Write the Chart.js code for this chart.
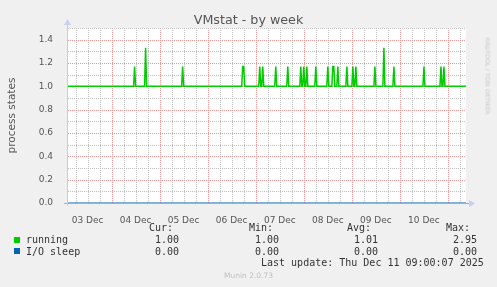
<!DOCTYPE html>
<html>
<head>
<meta charset="utf-8">
<script src="https://cdn.jsdelivr.net/npm/chart.js@4/dist/chart.umd.min.js"></script>
<style>
  html, body { margin: 0; padding: 0; background: #f0f0f0; }
  #wrap { position: relative; width: 497px; height: 287px; overflow: hidden; }
  #chart { position: absolute; left: 0; top: 0; }
  .txt { position: absolute; white-space: pre; font-family: "DejaVu Sans", sans-serif; color: #444; }
  .mono { position: absolute; white-space: pre; font-family: "DejaVu Sans Mono", monospace; font-size: 10px; line-height: 12px; color: #333; }
  .sq { position: absolute; width: 6px; height: 6px; }
</style>
</head>
<body>
<div id="wrap">
  <canvas id="chart" width="497" height="287"></canvas>

  <div class="txt" style="left:0; width:497px; top:12px; text-align:center; font-size:12.7px; color:#555;">VMstat - by week</div>
  <div class="txt" style="left:455px; top:67px; width:66px; text-align:center; font-size:6px; color:#c8c8c8; transform:rotate(90deg); transform-origin:center;">RRDTOOL / TOBI OETIKER</div>

  <div class="mono" style="left:149px; top:222px;">Cur:</div>
  <div class="mono" style="left:249px; top:222px;">Min:</div>
  <div class="mono" style="left:347px; top:222px;">Avg:</div>
  <div class="mono" style="left:446px; top:222px;">Max:</div>

  <div class="sq" style="left:14px; top:237px; background:#00cc00;"></div>
  <div class="mono" style="left:26px; top:234px;">running</div>
  <div class="mono" style="left:155px; top:234px;">1.00</div>
  <div class="mono" style="left:255px; top:234px;">1.00</div>
  <div class="mono" style="left:354px; top:234px;">1.01</div>
  <div class="mono" style="left:453px; top:234px;">2.95</div>

  <div class="sq" style="left:14px; top:248px; background:#0066b3;"></div>
  <div class="mono" style="left:26px; top:246px;">I/O sleep</div>
  <div class="mono" style="left:155px; top:246px;">0.00</div>
  <div class="mono" style="left:255px; top:246px;">0.00</div>
  <div class="mono" style="left:354px; top:246px;">0.00</div>
  <div class="mono" style="left:453px; top:246px;">0.00</div>

  <div class="mono" style="left:261px; top:257px;">Last update: Thu Dec 11 09:00:07 2025</div>
  <div class="txt" style="left:0; width:497px; top:271px; text-align:center; font-size:7.5px; color:#c0c0c0;">Munin 2.0.73</div>
</div>

<script>
// hours counted from 03 Dec 00:00
var xMin = 1.75;
var xMax = 201;
var dayLabels = ['03 Dec', '04 Dec', '05 Dec', '06 Dec', '07 Dec', '08 Dec', '09 Dec', '10 Dec'];
var xGridStep = 6;     // hours between grid lines
var yGridStep = 0.1;
var yMax = 1.5;

// running: flat at 1.00 with short bumps (30 min samples)
var runningBase = 1.0;
var spikeHours  = [35.5, 41.0, 59.5, 89.5, 90.0, 98.0, 99.5, 106.0, 112.0, 118.5, 120.0, 121.5,
                   126.0, 132.0, 134.5, 135.0, 137.0, 141.5, 144.5, 146.0, 155.5, 160.0, 165.0,
                   180.0, 188.5, 190.0];
var spikeValues = [1.17, 1.33, 1.17, 1.17, 1.17, 1.17, 1.17, 1.17, 1.17, 1.17, 1.17, 1.17,
                   1.17, 1.17, 1.17, 1.17, 1.17, 1.17, 1.17, 1.17, 1.17, 1.33, 1.17,
                   1.17, 1.17, 1.17];

// I/O sleep: 0.00 the whole week
var ioHours  = [xMin, xMax];
var ioValues = [0, 0];

var fontFam = '"DejaVu Sans", sans-serif';
var minorGrid = 'rgb(190,190,190)';
var majorGrid = 'rgb(232,150,150)';
var axisColor = 'rgb(150,170,228)';

// line points: base, bump, base
var runningPoints = [{x: xMin, y: runningBase}];
for (var i = 0; i < spikeHours.length; i++) {
    var t = spikeHours[i];
    if (i === 0 || t - spikeHours[i - 1] > 0.5) {
        runningPoints.push({x: t - 0.5, y: runningBase});
    }
    runningPoints.push({x: t, y: spikeValues[i]});
    if (i === spikeHours.length - 1 || spikeHours[i + 1] - t > 0.5) {
        runningPoints.push({x: t + 0.5, y: runningBase});
    }
}
runningPoints.push({x: xMax, y: runningBase});

var ioPoints = [];
for (var j = 0; j < ioHours.length; j++) {
    ioPoints.push({x: ioHours[j], y: ioValues[j]});
}

function isMajorX(v) { return Math.abs(v % 24) < 0.01; }
function isMajorY(v) { return Math.round(v * 10) % 2 === 0; }

// every grid position gets a tick (Chart.js would thin them out otherwise)
function xTicks(scale) {
    var list = [];
    for (var h = Math.ceil(xMin / xGridStep) * xGridStep; h <= xMax; h += xGridStep) list.push({value: h});
    scale.ticks = list;
}
function yTicks(scale) {
    var list = [];
    for (var k = 0; k <= Math.round(yMax / yGridStep); k++) list.push({value: Math.round(k * yGridStep * 10) / 10});
    scale.ticks = list;
}

// white plot area, dotted grid, axis lines with arrows
var plotDeco = {
    id: 'plotDeco',
    beforeDraw: function (chart) {
        var a = chart.chartArea, c = chart.ctx;
        c.save();
        c.fillStyle = '#ffffff';
        c.fillRect(a.left, a.top, a.right - a.left, a.bottom - a.top);
        c.restore();
    },
    beforeDatasetsDraw: function (chart) {
        var a = chart.chartArea, c = chart.ctx;
        var xs = chart.scales.x, ys = chart.scales.y;
        c.save();
        xs.ticks.forEach(function (tk) {
            var px = Math.round(xs.getPixelForValue(tk.value));
            if (px <= a.left || px >= a.right) return;
            c.fillStyle = isMajorX(tk.value) ? majorGrid : minorGrid;
            for (var yy = Math.round(a.top); yy < a.bottom; yy += 2) c.fillRect(px, yy, 1, 1);
        });
        ys.ticks.forEach(function (tk) {
            var py = Math.round(ys.getPixelForValue(tk.value));
            if (py >= a.bottom) return;
            c.fillStyle = isMajorY(tk.value) ? majorGrid : minorGrid;
            for (var xx = Math.round(a.left) + 1; xx < a.right; xx += 2) c.fillRect(xx, py, 1, 1);
        });
        c.restore();
    },
    afterDatasetsDraw: function (chart) {
        var a = chart.chartArea, c = chart.ctx;
        c.save();
        c.strokeStyle = axisColor;
        c.fillStyle = 'rgb(200,206,245)';
        c.lineWidth = 1;
        c.beginPath();
        c.moveTo(a.left - 3, a.bottom + 0.5);
        c.lineTo(a.right + 3, a.bottom + 0.5);
        c.stroke();
        c.strokeStyle = 'rgb(195,202,240)';
        c.beginPath();
        c.moveTo(a.left + 0.5, a.bottom + 3);
        c.lineTo(a.left + 0.5, a.top - 4);
        c.stroke();
        c.beginPath();
        c.moveTo(a.right + 3, a.bottom - 3);
        c.lineTo(a.right + 9, a.bottom + 0.5);
        c.lineTo(a.right + 3, a.bottom + 4);
        c.closePath();
        c.fill();
        c.beginPath();
        c.moveTo(a.left - 3, a.top - 3);
        c.lineTo(a.left + 0.5, a.top - 9);
        c.lineTo(a.left + 4, a.top - 3);
        c.closePath();
        c.fill();
        c.restore();
    }
};

var ctx = document.getElementById('chart').getContext('2d');
var myChart = new Chart(ctx, {
    type: 'line',
    data: {
        datasets: [
            {
                label: 'I/O sleep',
                data: ioPoints,
                borderColor: '#0066b3',
                borderWidth: 1,
                pointRadius: 0,
                tension: 0
            },
            {
                label: 'running',
                data: runningPoints,
                borderColor: '#00cc00',
                borderWidth: 1.5,
                pointRadius: 0,
                tension: 0
            }
        ]
    },
    options: {
        responsive: false,
        animation: false,
        devicePixelRatio: 1,
        layout: {
            padding: {left: 0, right: 31, top: 28, bottom: 64}
        },
        plugins: {
            legend: {display: false},
            tooltip: {enabled: false}
        },
        scales: {
            x: {
                type: 'linear',
                min: xMin,
                max: xMax,
                afterBuildTicks: xTicks,
                afterFit: function (scale) { scale.height = 20; },
                ticks: {
                    autoSkip: false,
                    maxRotation: 0,
                    padding: 4,
                    color: '#555',
                    font: {family: fontFam, size: 9},
                    callback: function (v) {
                        return v % 24 === 12 ? dayLabels[Math.floor(v / 24)] : '';
                    }
                },
                grid: {display: false},
                border: {display: false}
            },
            y: {
                min: 0,
                max: yMax,
                afterBuildTicks: yTicks,
                afterFit: function (scale) { scale.width = 67; },
                ticks: {
                    autoSkip: false,
                    padding: 6,
                    color: '#555',
                    font: {family: fontFam, size: 9},
                    callback: function (v) {
                        return isMajorY(v) ? v.toFixed(1) : '';
                    }
                },
                grid: {display: false},
                border: {display: false},
                title: {
                    display: true,
                    text: 'process states',
                    color: '#555',
                    font: {family: fontFam, size: 10.5},
                    padding: {top: 6, bottom: 0}
                }
            }
        }
    },
    plugins: [plotDeco]
});
</script>
</body>
</html>
